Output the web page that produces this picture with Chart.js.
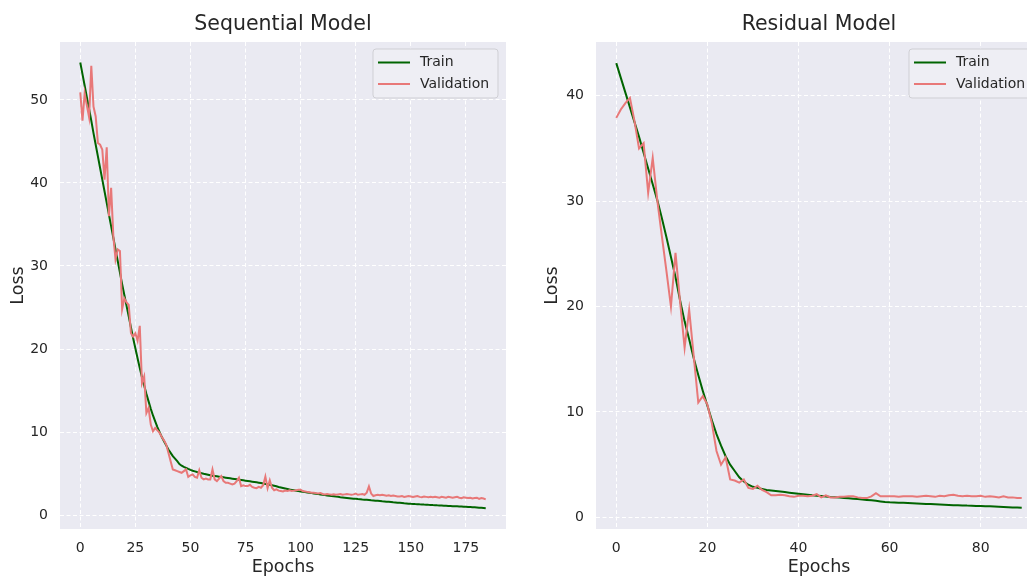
<!DOCTYPE html>
<html>
<head>
<meta charset="utf-8">
<script src="https://cdn.jsdelivr.net/npm/chart.js@4.4.1/dist/chart.umd.min.js"></script>
<style>
html,body{margin:0;padding:0;background:#fff;overflow:hidden;width:1027px;height:578px;position:relative}
#c1{position:absolute;left:0;top:0}
#c2{position:absolute;left:535px;top:0}
</style>
</head>
<body>
<canvas id="c1" width="530" height="578"></canvas>
<canvas id="c2" width="531" height="578"></canvas>
<script>
// ---------------- DATA ----------------
const seqTitle = "Sequential Model";
const resTitle = "Residual Model";
const seriesNames = ["Train", "Validation"];

const seqTrain = [
54.5,53.1,51.7,50.3,48.9,47.5,46.0,44.6,43.2,41.8,
40.4,39.0,37.6,36.2,34.8,33.4,32.0,30.6,29.2,27.8,
26.5,25.2,23.9,22.6,21.3,20.1,18.9,17.7,16.6,15.6,
14.6,13.7,12.8,12.0,11.3,10.6,10.0,9.4,8.9,8.4,
7.9,7.5,7.1,6.8,6.5,6.15,5.95,5.8,5.68,5.56,
5.45,5.35,5.27,5.19,5.12,5.05,4.98,4.92,4.86,4.80,
4.75,4.71,4.67,4.63,4.59,4.55,4.51,4.47,4.43,4.39,
4.35,4.31,4.27,4.23,4.19,4.15,4.11,4.07,4.03,3.99,
3.95,3.91,3.86,3.81,3.76,3.71,3.65,3.59,3.53,3.47,
3.39,3.33,3.27,3.21,3.15,3.09,3.04,2.99,2.94,2.89,
2.85,2.81,2.77,2.73,2.69,2.65,2.61,2.57,2.53,2.49,
2.45,2.41,2.37,2.34,2.30,2.27,2.23,2.20,2.16,2.13,
2.10,2.07,2.04,2.01,1.98,1.96,1.93,1.91,1.88,1.86,
1.84,1.82,1.79,1.77,1.74,1.72,1.70,1.67,1.65,1.62,
1.60,1.58,1.55,1.53,1.50,1.48,1.46,1.43,1.41,1.38,
1.36,1.35,1.33,1.32,1.30,1.29,1.27,1.26,1.24,1.23,
1.21,1.20,1.18,1.17,1.16,1.14,1.13,1.11,1.10,1.08,
1.07,1.06,1.04,1.03,1.01,1.00,0.99,0.97,0.95,0.94,
0.92,0.90,0.88,0.86,0.84
];
const seqVal = [
50.9,47.5,50.8,49.3,47.9,54.1,49.2,48.0,44.8,44.6,
44.0,40.4,44.3,36.0,39.4,33.6,30.8,32.0,31.8,24.8,
26.1,25.6,25.3,21.9,21.5,21.9,21.0,22.8,15.9,16.7,
12.3,12.9,10.9,10.1,10.5,10.2,9.9,9.4,9.0,8.5,
7.5,6.5,5.5,5.4,5.3,5.2,5.1,5.3,5.5,4.6,
4.8,4.9,4.6,4.5,5.4,4.5,4.3,4.4,4.3,4.3,
5.5,4.3,4.1,4.4,4.7,4.1,3.9,3.9,3.8,3.7,
3.8,4.1,4.5,3.5,3.6,3.5,3.5,3.65,3.4,3.3,
3.25,3.4,3.3,3.6,4.65,3.25,4.2,3.3,3.0,3.1,
2.95,2.9,2.85,2.95,2.9,3.0,2.9,2.95,3.0,3.05,
3.05,2.9,2.85,2.8,2.75,2.7,2.7,2.65,2.6,2.65,
2.55,2.5,2.55,2.5,2.45,2.5,2.45,2.5,2.55,2.45,
2.5,2.55,2.5,2.45,2.5,2.6,2.45,2.5,2.55,2.45,
2.7,3.45,2.6,2.3,2.4,2.45,2.4,2.45,2.4,2.35,
2.4,2.3,2.35,2.3,2.25,2.25,2.3,2.2,2.25,2.3,
2.25,2.2,2.25,2.3,2.2,2.15,2.25,2.2,2.15,2.2,
2.15,2.2,2.15,2.1,2.2,2.15,2.1,2.2,2.15,2.1,
2.15,2.2,2.1,2.05,2.15,2.1,2.05,2.1,2.0,2.05,
2.1,1.95,2.05,2.0,1.9
];
const resTrain = [
43.1,41.7,40.3,38.9,37.5,36.1,34.6,33.1,31.6,30.1,
28.4,26.6,24.7,22.8,20.6,18.6,16.9,15.1,13.5,12.0,
10.6,9.2,7.9,6.8,5.8,5.0,4.4,3.8,3.4,3.1,
2.9,2.8,2.7,2.6,2.55,2.5,2.45,2.4,2.35,2.3,
2.25,2.2,2.15,2.1,2.06,2.02,1.98,1.94,1.91,1.88,
1.85,1.82,1.78,1.74,1.70,1.66,1.62,1.57,1.52,1.47,
1.44,1.42,1.40,1.38,1.36,1.34,1.32,1.30,1.28,1.26,
1.24,1.22,1.20,1.18,1.16,1.15,1.14,1.12,1.11,1.09,
1.08,1.06,1.05,1.03,1.01,0.99,0.97,0.95,0.93,0.91
];
const resVal = [
37.9,38.7,39.3,39.8,37.6,35.0,35.5,30.8,34.1,30.1,
26.7,23.4,20.0,25.1,20.5,16.1,19.7,15.3,10.9,11.5,
10.7,8.9,6.3,5.0,5.7,3.6,3.5,3.3,3.6,2.8,
2.7,3.0,2.6,2.4,2.1,2.1,2.15,2.1,2.0,1.95,
2.05,2.05,2.0,2.05,2.2,1.9,2.1,1.9,1.9,1.95,
1.95,2.0,2.0,1.9,1.85,1.83,2.0,2.3,2.0,2.0,
2.0,2.0,1.95,2.0,2.0,2.0,1.95,2.0,2.05,2.0,
1.95,2.05,2.0,2.1,2.15,2.05,2.0,2.05,2.0,2.0,
2.05,1.95,2.0,1.95,1.9,2.0,1.9,1.9,1.85,1.83
];
const seqXTicks = [0,25,50,75,100,125,150,175];
const seqYTicks = [0,10,20,30,40,50];
const resXTicks = [0,20,40,60,80];
const resYTicks = [0,10,20,30,40];
const xLabel = "Epochs";
const yLabel = "Loss";
// ---------------------------------------

Chart.defaults.font.family = '"DejaVu Sans", sans-serif';
Chart.defaults.color = '#262626';

const TRAIN_COLOR = '#006400';
const VAL_COLOR = 'rgb(232,120,120)';

const panelPlugin = {
  id: 'panel',
  beforeDraw(chart) {
    const {ctx, chartArea: a} = chart;
    ctx.save();
    ctx.fillStyle = '#EAEAF2';
    ctx.fillRect(a.left, a.top, a.right - a.left, a.bottom - a.top);
    ctx.restore();
  },
  afterDraw(chart, args, opts) {
    const {ctx, chartArea: a} = chart;
    ctx.save();
    // title
    ctx.font = '20.5px "DejaVu Sans"';
    ctx.fillStyle = '#262626';
    ctx.textAlign = 'center';
    ctx.textBaseline = 'alphabetic';
    ctx.fillText(opts.title, (a.left + a.right) / 2, 30);
    // legend
    const w = 125, h = 49;
    const x = a.right - 8 - w, y = a.top + 7;
    const r = 3;
    ctx.beginPath();
    ctx.moveTo(x + r, y);
    ctx.lineTo(x + w - r, y); ctx.arcTo(x + w, y, x + w, y + r, r);
    ctx.lineTo(x + w, y + h - r); ctx.arcTo(x + w, y + h, x + w - r, y + h, r);
    ctx.lineTo(x + r, y + h); ctx.arcTo(x, y + h, x, y + h - r, r);
    ctx.lineTo(x, y + r); ctx.arcTo(x, y, x + r, y, r);
    ctx.closePath();
    ctx.fillStyle = '#EEEEF4';
    ctx.fill();
    ctx.strokeStyle = '#CFCFD4';
    ctx.lineWidth = 1;
    ctx.stroke();
    ctx.font = '14px "DejaVu Sans"';
    ctx.textAlign = 'left';
    ctx.textBaseline = 'middle';
    chart.data.datasets.forEach((ds, i) => {
      const yy = y + 13.5 + i * 21.5;
      ctx.beginPath();
      ctx.moveTo(x + 5, yy);
      ctx.lineTo(x + 37, yy);
      ctx.strokeStyle = ds.borderColor;
      ctx.lineWidth = 2;
      ctx.stroke();
      ctx.fillStyle = '#262626';
      ctx.fillText(ds.label, x + 47, yy);
    });
    ctx.restore();
  }
};

function makeChart(canvasId, title, train, val, xTicks, yTicks, xr, yr, yAxisWidth, yTitlePad) {
  const toXY = arr => arr.map((v, i) => ({x: i, y: v}));
  return new Chart(document.getElementById(canvasId), {
    type: 'line',
    data: {
      datasets: [
        {label: seriesNames[0], data: toXY(train), borderColor: TRAIN_COLOR, borderWidth: 2, pointRadius: 0, tension: 0, order: 1},
        {label: seriesNames[1], data: toXY(val), borderColor: VAL_COLOR, borderWidth: 2, pointRadius: 0, tension: 0, order: 0}
      ]
    },
    options: {
      responsive: false,
      animation: false,
      devicePixelRatio: 1,
      layout: {padding: {left: 0, top: 42, right: 24, bottom: 0}},
      plugins: {
        legend: {display: false},
        tooltip: {enabled: false},
        panel: {title: title}
      },
      scales: {
        x: {
          type: 'linear',
          min: xr[0], max: xr[1],
          afterBuildTicks: s => { s.ticks = xTicks.map(v => ({value: v})); },
          afterFit: s => { s.height = 49; },
          grid: {color: '#ffffff', lineWidth: 1, drawTicks: false},
          border: {display: false, dash: [4, 2.5]},
          ticks: {padding: 11, font: {size: 14}, color: '#262626', callback: v => String(v)},
          title: {display: true, text: xLabel, font: {size: 17.5}, color: '#262626', padding: {top: 0, bottom: 0}}
        },
        y: {
          type: 'linear',
          min: yr[0], max: yr[1],
          afterBuildTicks: s => { s.ticks = yTicks.map(v => ({value: v})); },
          afterFit: s => { s.width = yAxisWidth; },
          grid: {color: '#ffffff', lineWidth: 1, drawTicks: false},
          border: {display: false, dash: [4, 2.5]},
          ticks: {padding: 12, font: {size: 14}, color: '#262626', callback: v => String(v)},
          title: {display: true, text: yLabel, font: {size: 17.5}, color: '#262626', padding: {top: yTitlePad, bottom: 0}}
        }
      }
    },
    plugins: [panelPlugin]
  });
}

makeChart('c1', seqTitle, seqTrain, seqVal, seqXTicks, seqYTicks, [-9.2, 193.2], [-1.67, 56.97], 60, 7.5);
makeChart('c2', resTitle, resTrain, resVal, resXTicks, resYTicks, [-4.45, 93.45], [-1.1, 45.1], 61, 7);
</script>
</body>
</html>
